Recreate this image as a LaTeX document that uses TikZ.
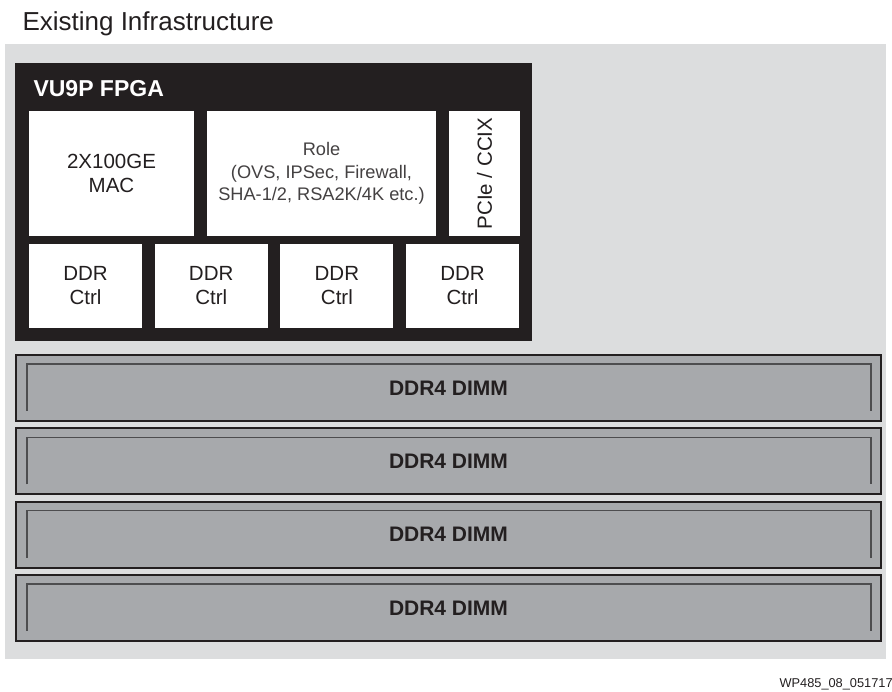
\documentclass[tikz,border=0pt]{standalone}
\usepackage{graphicx}
\usepackage{fontspec}
\setmainfont{Liberation Sans}
\usetikzlibrary{positioning}

\definecolor{bggray}{HTML}{DCDDDE}
\definecolor{chipblack}{HTML}{231F20}
\definecolor{dimmgray}{HTML}{A7A9AC}
\definecolor{linegray}{HTML}{4D4D4F}

\begin{document}
\begin{tikzpicture}[x=1pt,y=-1pt,
        panel/.style={rectangle,inner sep=0pt,outer sep=0pt,anchor=north west},
        block/.style={rectangle,fill=white,inner sep=0pt,outer sep=0pt,text=chipblack,align=center,font=\fontsize{20.5}{24}\selectfont},
        ctrl/.style={block,minimum width=113pt,minimum height=84pt},
        dimm/.style={rectangle,draw=chipblack,line width=2pt,fill=dimmgray,minimum width=865pt,minimum height=66pt,inner sep=0pt,text=chipblack,font=\bfseries\fontsize{21}{25}\selectfont}]
    \useasboundingbox (0,0) rectangle (892,692);
    \node[anchor=base west,text=chipblack,font=\fontsize{26}{30}\selectfont] (title) at (19,31) {Existing Infrastructure};
    \node[panel,fill=bggray,minimum width=881pt,minimum height=615pt] (infra) at (5,44) {};

    % FPGA with its blocks
    \node[panel,fill=chipblack,minimum width=517pt,minimum height=278pt] (fpga) at (15,63) {};
    \node[anchor=base west,text=white,font=\bfseries\fontsize{23}{27}\selectfont] (fpgalabel) at (30,97) {VU9P FPGA};
    \node[block,anchor=north west,minimum width=165pt,minimum height=125pt] (mac) at (29,111) {2X100GE\\MAC};
    \node[block,minimum width=229pt,minimum height=125pt,text=chipblack!85,font=\fontsize{18.2}{22.5}\selectfont] (role) [right = 13pt of mac] {Role\\(OVS, IPSec, Firewall,\\SHA-1/2, RSA2K/4K etc.)};
    \node[block,minimum width=71pt,minimum height=125pt] (pcie) [right = 13pt of role] {\rotatebox{90}{PCIe / CCIX}};

    \node[ctrl,anchor=north west] (ctrl1) at (29,244) {DDR\\Ctrl};
    \node[ctrl] (ctrl2) [right = 12.7pt of ctrl1] {DDR\\Ctrl};
    \node[ctrl] (ctrl3) [right = 12.7pt of ctrl2] {DDR\\Ctrl};
    \node[ctrl] (ctrl4) [right = 12.7pt of ctrl3] {DDR\\Ctrl};

    % memory modules
    \node[dimm,anchor=north west] (dimm1) at (15,354) {DDR4 DIMM};
    \node[dimm] (dimm2) [below = 5.3pt of dimm1] {DDR4 DIMM};
    \node[dimm] (dimm3) [below = 5.3pt of dimm2] {DDR4 DIMM};
    \node[dimm] (dimm4) [below = 5.3pt of dimm3] {DDR4 DIMM};
    \foreach \d in {dimm1,dimm2,dimm3,dimm4}
        \draw[linegray,line width=1.2pt] ([shift={(12,-11)}]\d.south west) |- ([shift={(-11,10)}]\d.north east) -- ([shift={(-11,-11)}]\d.south east);

    \node[anchor=base west,text=chipblack,font=\fontsize{12.8}{15}\selectfont] (figid) at (776,687) {WP485\_08\_051717};
\end{tikzpicture}
\end{document}
